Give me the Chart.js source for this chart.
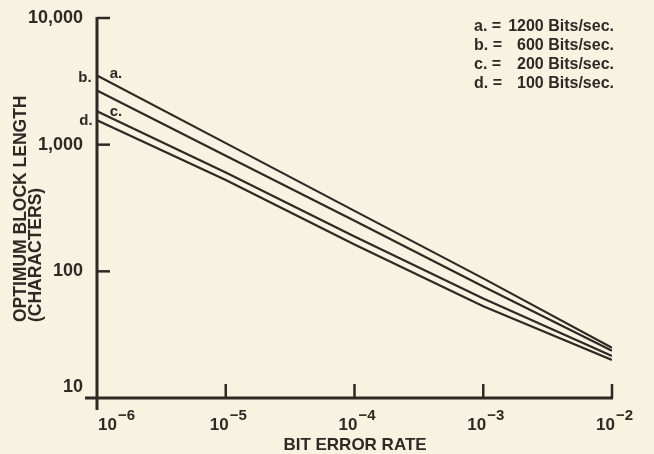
<!DOCTYPE html>
<html><head><meta charset="utf-8">
<script src="https://cdn.jsdelivr.net/npm/chart.js@4/dist/chart.umd.min.js"></script>
<style>html,body{margin:0;padding:0;background:#f8f3e1;}#wrap{width:654px;height:454px;}</style>
</head><body><div id="wrap"><canvas id="c" width="654" height="454"></canvas></div>
<script>
const bitErrorRates = [1e-6, 1e-5, 1e-4, 1e-3, 1e-2];
const xTickExponents = [-6, -5, -4, -3, -2];
const yTickValues = [10, 100, 1000, 10000];
const yTickLabels = ["10", "100", "1,000", "10,000"];
const seriesA = [3510, 1028, 300, 88, 24.9];   // 1200 Bits/sec
const seriesB = [2673, 818, 251, 76, 23.6];    // 600 Bits/sec
const seriesC = [1833, 603, 188, 61, 21.5];    // 200 Bits/sec
const seriesD = [1556, 527, 163, 53, 20];      // 100 Bits/sec
const legendKeys = ["a. =", "b. =", "c. =", "d. ="];
const legendRates = ["1200 Bits/sec.", "600 Bits/sec.", "200 Bits/sec.", "100 Bits/sec."];
const curveLabels = ["a.", "b.", "c.", "d."];

const INK = '#2d2925';
const FONT = '"Liberation Sans", Arial, sans-serif';

function pts(arr){ return bitErrorRates.map((x,i)=>({x:x, y:arr[i]})); }
function ds(arr,label){ return {label, data: pts(arr), borderColor: INK, borderWidth: 2.2, pointRadius: 0, showLine: true, tension: 0, fill: false}; }

const deco = {
  id: 'deco',
  beforeDraw(chart){
    const ctx = chart.ctx;
    ctx.save(); ctx.fillStyle = '#f8f3e1'; ctx.fillRect(0,0,chart.width,chart.height); ctx.restore();
  },
  afterDraw(chart){
    const ctx = chart.ctx, xs = chart.scales.x, ys = chart.scales.y;
    const L = xs.getPixelForValue(1e-6), R = xs.getPixelForValue(1e-2);
    const T = ys.getPixelForValue(10000), B = ys.getPixelForValue(10);
    ctx.save();
    ctx.strokeStyle = INK; ctx.lineWidth = 3; ctx.lineCap = 'butt';
    // axes
    ctx.beginPath(); ctx.moveTo(L, T-1); ctx.lineTo(L, B+12); ctx.stroke();
    ctx.beginPath(); ctx.moveTo(L-12, B); ctx.lineTo(R+1, B); ctx.stroke();
    ctx.lineWidth = 2.5;
    // y inner ticks
    yTickValues.slice(1).forEach(v=>{ const y = ys.getPixelForValue(v); ctx.beginPath(); ctx.moveTo(L, y); ctx.lineTo(L+13, y); ctx.stroke(); });
    // x inner ticks
    bitErrorRates.slice(1).forEach(v=>{ const x = xs.getPixelForValue(v); ctx.beginPath(); ctx.moveTo(x, B); ctx.lineTo(x, B-14); ctx.stroke(); });
    // x tick labels with superscripts
    ctx.fillStyle = INK; ctx.textBaseline = 'alphabetic'; ctx.textAlign = 'left';
    bitErrorRates.forEach((v,i)=>{
      const x = xs.getPixelForValue(v);
      const base = '10', exp = '\u2212' + Math.abs(xTickExponents[i]);
      ctx.font = 'bold 17px ' + FONT;
      const wb = ctx.measureText(base).width;
      const x0 = i === 0 ? x + 1 : x - 16;
      ctx.fillText(base, x0, B+32);
      ctx.font = 'bold 15px ' + FONT;
      ctx.fillText(exp, x0+wb+1, B+22);
    });
    // x title
    ctx.font = 'bold 17px ' + FONT; ctx.textAlign = 'center';
    ctx.fillText('BIT ERROR RATE', 355, B+52);
    // y title
    ctx.save();
    ctx.translate(0, 322); ctx.rotate(-Math.PI/2);
    ctx.font = 'bold 17.5px ' + FONT; ctx.textAlign = 'left'; ctx.textBaseline = 'middle';
    ctx.fillText('OPTIMUM BLOCK LENGTH', 0, 21);
    ctx.fillText('(CHARACTERS)', 0, 36);
    ctx.restore();
    // curve labels
    ctx.font = 'bold 15px ' + FONT; ctx.textAlign = 'center'; ctx.textBaseline = 'alphabetic';
    ctx.fillText(curveLabels[0], 116, 78);
    ctx.fillText(curveLabels[1], 85, 82);
    ctx.fillText(curveLabels[2], 116, 116);
    ctx.fillText(curveLabels[3], 86, 125);
    // legend
    ctx.font = 'bold 16px ' + FONT; ctx.textBaseline = 'middle';
    legendKeys.forEach((t,i)=>{
      const y = 27 + i*19;
      ctx.textAlign = 'left'; ctx.fillText(t, 474, y);
      ctx.textAlign = 'right'; ctx.fillText(legendRates[i], 614, y);
    });
    ctx.restore();
  }
};

new Chart(document.getElementById('c'), {
  type: 'scatter',
  data: { datasets: [ds(seriesA,'a'), ds(seriesB,'b'), ds(seriesC,'c'), ds(seriesD,'d')] },
  options: {
    responsive: false, animation: false, devicePixelRatio: 1,
    layout: { padding: { top: 18, right: 42, left: 0, bottom: 0 } },
    plugins: { legend: { display: false }, tooltip: { enabled: false } },
    scales: {
      x: {
        type: 'logarithmic', min: 1e-6, max: 1e-2,
        afterBuildTicks: s => { s.ticks = bitErrorRates.map(v=>({value:v})); },
        afterFit: s => { s.height = 56; s.paddingLeft = 0; s.paddingRight = 0; },
        grid: { display: false, drawTicks: false }, border: { display: false },
        ticks: { display: false }
      },
      y: {
        type: 'logarithmic', min: 10, max: 10000,
        afterBuildTicks: s => { s.ticks = yTickValues.map(v=>({value:v})); },
        afterFit: s => { s.width = 97; s.paddingTop = 0; s.paddingBottom = 0; },
        grid: { display: false, drawTicks: false }, border: { display: false },
        ticks: { color: INK, padding: 14, font: { family: FONT, size: 18, weight: 'bold' },
          callback: (v) => { const i = yTickValues.indexOf(v); if (i < 0) return ''; return v === 10 ? [yTickLabels[i], ''] : yTickLabels[i]; } }
      }
    }
  },
  plugins: [deco]
});
</script></body></html>
